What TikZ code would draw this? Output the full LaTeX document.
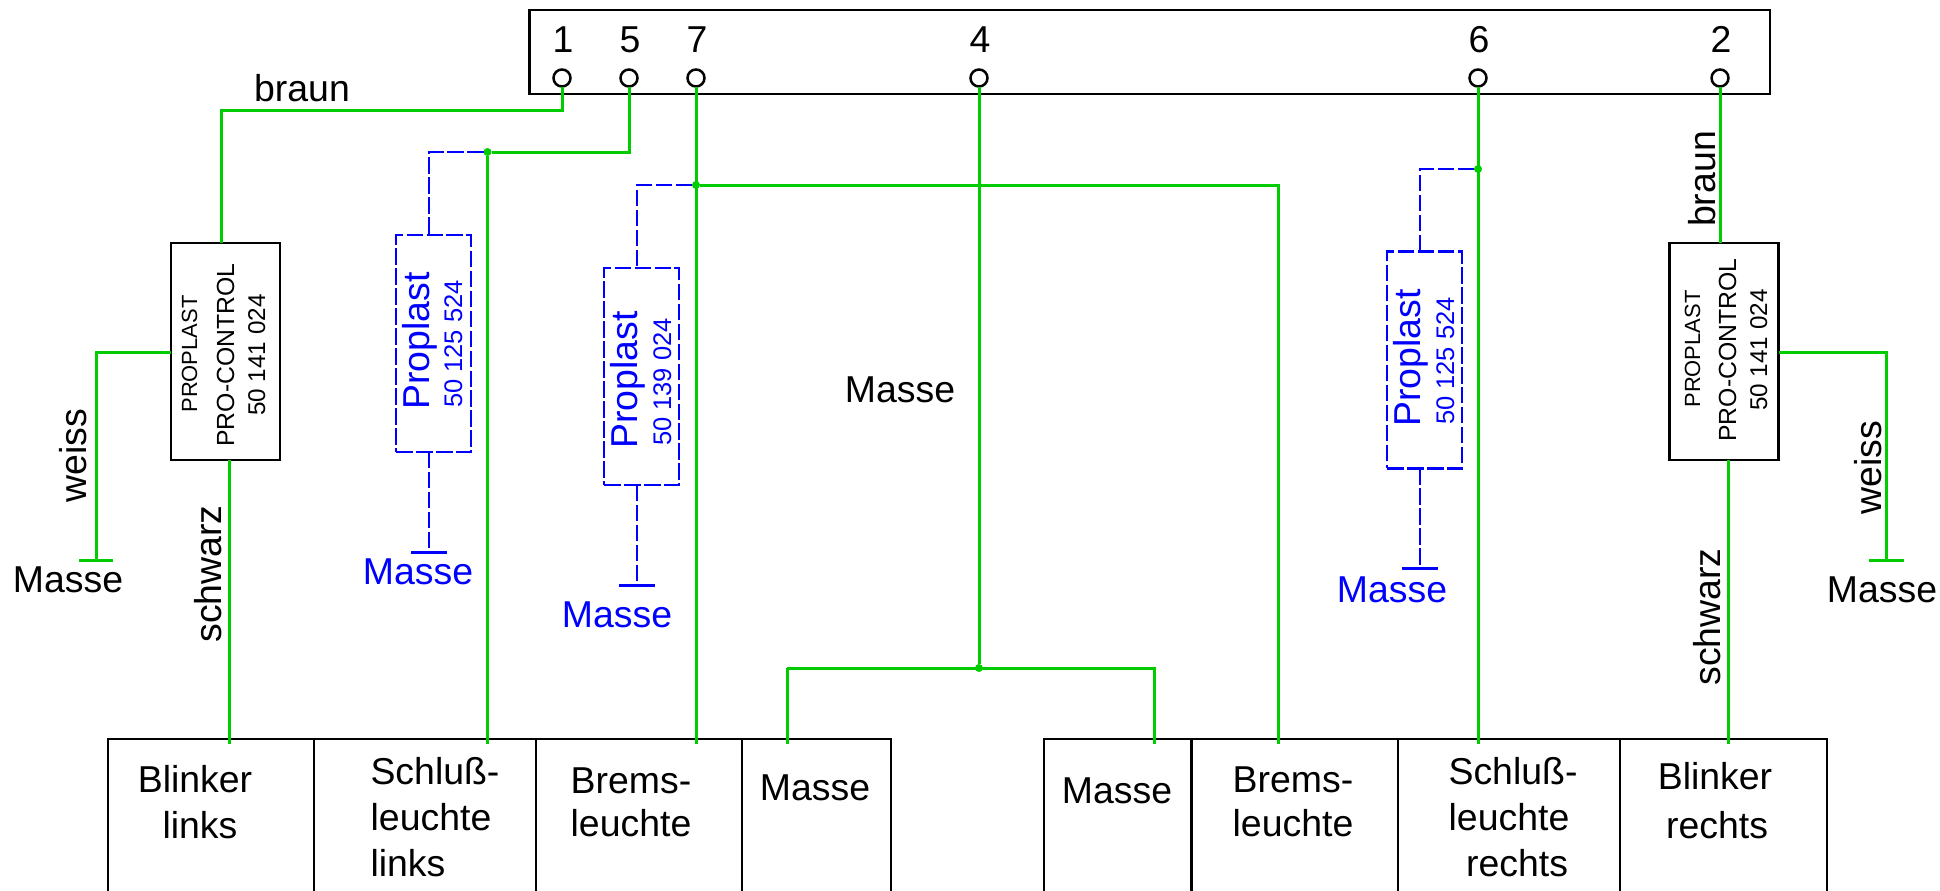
\documentclass[tikz,border=0pt]{standalone}
\usepackage{fontspec}
\setmainfont{Liberation Sans}
\definecolor{wiregreen}{RGB}{0,204,0}
\tikzset{
  wire/.style={draw=wiregreen,line width=.06cm},
  optwire/.style={draw=blue,line width=.052cm,dash pattern=on .33cm off .07cm},
  framebox/.style={draw=black,line width=.055cm,inner sep=0,outer sep=0},
  lampbox/.style={framebox,anchor=north west,minimum height=3.4cm},
  ctrlbox/.style={framebox,minimum width=2.18cm,minimum height=4.34cm},
  optbox/.style={draw=blue,line width=.052cm,dash pattern=on .33cm off .07cm,inner sep=0,outer sep=0,minimum width=1.5cm,minimum height=4.34cm},
  pin/.style={circle,draw=black,fill=white,line width=.05cm,minimum size=.34cm,inner sep=0,outer sep=0},
  joint/.style={circle,fill=wiregreen,minimum size=.16cm,inner sep=0,outer sep=0},
  bargreen/.style={fill=wiregreen,minimum width=.7cm,minimum height=.06cm,inner sep=0,outer sep=0},
  barblue/.style={fill=blue,minimum width=.72cm,minimum height=.06cm,inner sep=0,outer sep=0},
  txt/.style={anchor=base,inner sep=0,font=\fontsize{21.3}{24}\selectfont},
  txtup/.style={txt,rotate=90},
  small/.style={txtup,font=\fontsize{12.5}{15}\selectfont},
  mid/.style={txtup,font=\fontsize{14.1}{17}\selectfont},
  code/.style={txtup,font=\fontsize{13.8}{16}\selectfont},
}
\begin{document}
\begin{tikzpicture}[x=.02cm,y=-.02cm]
\useasboundingbox (0,0) rectangle (1940,890);
\clip (0,0) rectangle (1940,890);
% plug
\node[framebox,minimum width=24.82cm,minimum height=1.68cm] (plug) at (1149.5,52) {};
\node[pin] (p1) at (562,78) {};
\node[pin] (p5) at (629,78) {};
\node[pin] (p7) at (696,78) {};
\node[pin] (p4) at (979,78) {};
\node[pin] (p6) at (1478,78) {};
\node[pin] (p2) at (1720,78) {};
\node[txt] (n1) at (563,52) {1};
\node[txt] (n5) at (630,52) {5};
\node[txt] (n7) at (697,52) {7};
\node[txt] (n4) at (980,52) {4};
\node[txt] (n6) at (1479,52) {6};
\node[txt] (n2) at (1721,52) {2};
% lamps
\node[lampbox,minimum width=4.12cm] (blinkL) at (108,739) {};
\node[lampbox,minimum width=4.44cm] (schlussL) at (314,739) {};
\node[lampbox,minimum width=4.12cm] (bremsL) at (536,739) {};
\node[lampbox,minimum width=2.98cm] (masseL) at (742,739) {};
\node[lampbox,minimum width=2.95cm] (masseR) at (1044,739) {};
\node[lampbox,minimum width=4.13cm] (bremsR) at (1191.5,739) {};
\node[lampbox,minimum width=4.44cm] (schlussR) at (1398,739) {};
\node[lampbox,minimum width=4.14cm] (blinkR) at (1620,739) {};
\node[txt] (t1) at (195,792) {Blinker};
\node[txt] (t2) at (200,838) {links};
\node[txt] (t3) at (435,784) {Schluß-};
\node[txt] (t4) at (431,830) {leuchte};
\node[txt] (t5) at (408,876) {links};
\node[txt] (t6) at (631,793) {Brems-};
\node[txt] (t7) at (631,836) {leuchte};
\node[txt] (t8) at (815,800) {Masse};
\node[txt] (t9) at (1117,803) {Masse};
\node[txt] (t10) at (1293,792) {Brems-};
\node[txt] (t11) at (1293,836) {leuchte};
\node[txt] (t12) at (1513,784) {Schluß-};
\node[txt] (t13) at (1509,830) {leuchte};
\node[txt] (t14) at (1517,876) {rechts};
\node[txt] (t15) at (1715,789) {Blinker};
\node[txt] (t16) at (1717,838) {rechts};
% control units
\node[ctrlbox] (ctrlL) at (225.5,351.5) {};
\node[ctrlbox] (ctrlR) at (1724,351.5) {};
\node[small] (c1) at (197,354) {PROPLAST};
\node[mid] (c2) at (234,355) {PRO-CONTROL};
\node[code] (c3) at (265,355) {50 141 024};
\node[small] (c4) at (1700,349) {PROPLAST};
\node[mid] (c5) at (1736,350) {PRO-CONTROL};
\node[code] (c6) at (1767,350) {50 141 024};
% green wires
\coordinate (kL) at (221,110);
\coordinate (kB) at (787,668);
\coordinate (kS) at (1154,668);
\coordinate (hL) at (96,352);
\coordinate (hR) at (1886,352);
\coordinate (inA) at (229.5,744);
\coordinate (inB) at (487.5,744);
\coordinate (inC) at (696,744);
\coordinate (inD) at (787,744);
\coordinate (inE) at (1154,744);
\coordinate (inF) at (1278,744);
\coordinate (inG) at (1478,744);
\coordinate (inH) at (1728,744);
\node[joint] (jA) at (487.5,152) {};
\node[joint] (jB) at (696,185) {};
\node[joint] (jC) at (1478,169) {};
\node[joint] (jD) at (979,668) {};
\node[bargreen] (gL) at (96,560) {};
\node[bargreen] (gR) at (1886,560) {};
\draw[wire] (p1.south) |- (kL) -- (kL |- ctrlL.north);
\draw[wire] (ctrlL.west |- hL) -- (hL) -- (gL.north);
\draw[wire] (inA |- ctrlL.south) -- (inA);
\draw[wire] (p5.south) |- (jA.east);
\draw[wire] (jA) -- (inB);
\draw[wire] (p7.south) -- (inC);
\draw[wire] (jB.east) -| (inF);
\draw[wire] (p4.south) -- (jD);
\draw[wire] (kB) -- (kS) -- (inE);
\draw[wire] (kB) -- (inD);
\draw[wire] (p6.south) -- (inG);
\draw[wire] (p2.south) -- (ctrlR.north -| p2);
\draw[wire] (inH |- ctrlR.south) -- (inH);
\draw[wire] (ctrlR.east |- hR) -- (hR) -- (gR.north);
% optional blue parts
\node[optbox] (optA) at (433.5,343.5) {};
\node[optbox] (optB) at (641.5,376.5) {};
\node[optbox] (optC) at (1424.5,360) {};
\node[barblue] (bA) at (429,552) {};
\node[barblue] (bB) at (637,585) {};
\node[barblue] (bC) at (1420,568) {};
\draw[optwire] (jA.west) -| (optA.north -| bA);
\draw[optwire] (jB.west) -| (optB.north -| bB);
\draw[optwire] (jC.west) -| (optC.north -| bC);
\draw[optwire] (optA.south -| bA) -- (bA.north);
\draw[optwire] (optB.south -| bB) -- (bB.north);
\draw[optwire] (optC.south -| bC) -- (bC.north);
\begin{scope}[every node/.append style={text=blue}]
\node[txtup] (a1) at (429,341) {Proplast};
\node[mid,font=\fontsize{14.5}{17}\selectfont] (a2) at (462,344) {50 125 524};
\node[txt] (a3) at (418,584) {Masse};
\node[txtup] (b1) at (637,380) {Proplast};
\node[mid,font=\fontsize{14.5}{17}\selectfont] (b2) at (671,382) {50 139 024};
\node[txt] (b3) at (617,627) {Masse};
\node[txtup] (d1) at (1420,358) {Proplast};
\node[mid,font=\fontsize{14.5}{17}\selectfont] (d2) at (1454,361) {50 125 524};
\node[txt] (d3) at (1392,602) {Masse};
\end{scope}
% wire labels
\node[txt] (w1) at (302,101) {braun};
\node[txtup] (w2) at (1715,179) {braun};
\node[txtup] (w3) at (86,456) {weiss};
\node[txtup] (w4) at (1881,468) {weiss};
\node[txtup] (w5) at (221,574) {schwarz};
\node[txtup] (w6) at (1720,617) {schwarz};
\node[txt] (m1) at (68,592) {Masse};
\node[txt] (m2) at (1882,602) {Masse};
\node[txt] (m3) at (900,402) {Masse};
\end{tikzpicture}
\end{document}
